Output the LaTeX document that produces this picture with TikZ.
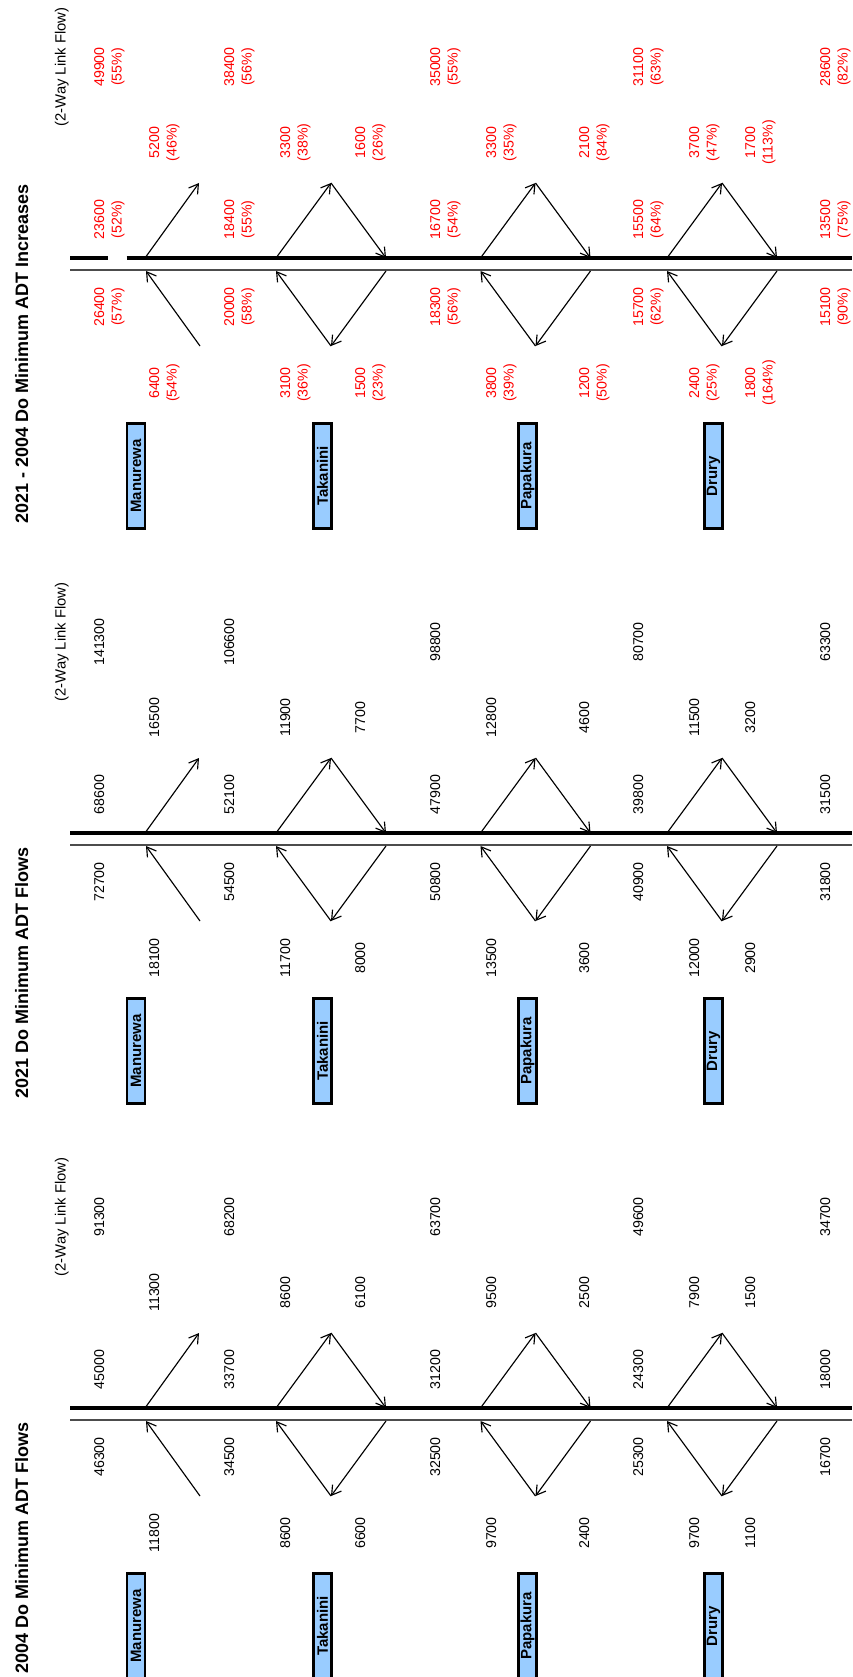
\documentclass[tikz,border=0pt]{standalone}
\usepackage{fontspec}
\setmainfont{Liberation Sans}
\usetikzlibrary{arrows.meta}
\definecolor{boxblue}{HTML}{99CCFF}
\tikzset{
 num/.style={rotate=90, anchor=north, inner sep=0pt, align=center, font=\fontsize{14.2}{17.5}\selectfont},
 rednum/.style={num, text=red},
 ttl/.style={rotate=90, anchor=west, inner sep=0pt, font=\bfseries\fontsize{18}{21}\selectfont},
 linkflow/.style={rotate=90, inner sep=0pt, font=\fontsize{14.8}{17}\selectfont},
 station/.style={rotate=90, draw=black, line width=2.3pt, fill=boxblue, minimum width=105pt, minimum height=18pt, inner sep=0pt, font=\bfseries\fontsize{15}{17}\selectfont},
 road/.style={line width=3.1pt, black},
 roadthin/.style={line width=1.1pt, black!70},
 ramp/.style={line width=1.15pt, -{Straight Barb[length=9pt,width=11pt]}},
}
\newcommand\roadpanel[3]{%
\begin{scope}[shift={(0,#1)}]
 \node[ttl] (#2title) at (21.7,266) {#3};
 \node[linkflow] (#2lf) at (61.7,-191) {(2-Way Link Flow)};
 \coordinate (#2ts) at (70,12); \coordinate (#2te) at (852,12);
 \draw[roadthin] (#2ts) -- (#2te);
 % Manurewa half interchange
 \coordinate (#2manUL) at (145,0); \coordinate (#2manUA) at (199,-75);
 \coordinate (#2manLA) at (200,88); \coordinate (#2manLL) at (146,13);
 \draw[ramp] (#2manUL) -- (#2manUA);
 \draw[ramp] (#2manLA) -- (#2manLL);
 \foreach \n/\ax in {tak/331, pap/535.5, dru/722} {
   \coordinate (#2\n UL) at (\ax-55,0);
   \coordinate (#2\n UA) at (\ax,-75);
   \coordinate (#2\n UR) at (\ax+55,0);
   \coordinate (#2\n LL) at (\ax-55,13);
   \coordinate (#2\n LA) at (\ax,88);
   \coordinate (#2\n LR) at (\ax+55,13);
   \draw[ramp] (#2\n UL) -- (#2\n UA);
   \draw[ramp] (#2\n UA) -- (#2\n UR);
   \draw[ramp] (#2\n LR) -- (#2\n LA);
   \draw[ramp] (#2\n LA) -- (#2\n LL);
 }
 \node[station] (#2man) at (136,218) {Manurewa};
 \node[station] (#2tak) at (322.5,218) {Takanini};
 \node[station] (#2pap) at (527.5,218) {Papakura};
 \node[station] (#2dru) at (713.5,218) {Drury};
\end{scope}}
\begin{document}
\begin{tikzpicture}[x=1pt,y=-1pt]
\useasboundingbox (0,0) rectangle (852,1677);
\fill[white] (0,0) rectangle (852,1677);

% ---------- Panel 1: 2004 ----------
\roadpanel{1408}{pa}{2004 Do Minimum ADT Flows}
\begin{scope}[shift={(0,1408)}]
 \coordinate (pas) at (70,0); \coordinate (pae) at (852,0);
 \draw[road] (pas) -- (pae);
 \foreach \x/\v [count=\i] in {94/91300,224/68200,430/63700,633/49600,820/34700}
   \node[num] (paR\i) at (\x,-191) {\v};
 \foreach \x/\v [count=\i] in {94/45000,224/33700,430/31200,633/24300,820/18000}
   \node[num] (paU\i) at (\x,-38.5) {\v};
 \foreach \x/\v [count=\i] in {94/46300,224/34500,430/32500,633/25300,820/16700}
   \node[num] (paD\i) at (\x,49) {\v};
 \foreach \x/\v [count=\i] in {149/11300,280/8600,355/6100,486/9500,579/2500,689/7900,745/1500}
   \node[num] (paRU\i) at (\x,-115.5) {\v};
 \foreach \x/\v [count=\i] in {149/11800,280/8600,355/6600,486/9700,579/2400,689/9700,745/1100}
   \node[num] (paRD\i) at (\x,125) {\v};
\end{scope}

% ---------- Panel 2: 2021 ----------
\roadpanel{833}{pb}{2021 Do Minimum ADT Flows}
\begin{scope}[shift={(0,833)}]
 \coordinate (pbs) at (70,0); \coordinate (pbe) at (852,0);
 \draw[road] (pbs) -- (pbe);
 \foreach \x/\v [count=\i] in {94/141300,224/106600,430/98800,633/80700,820/63300}
   \node[num] (pbR\i) at (\x,-191) {\v};
 \foreach \x/\v [count=\i] in {94/68600,224/52100,430/47900,633/39800,820/31500}
   \node[num] (pbU\i) at (\x,-38.5) {\v};
 \foreach \x/\v [count=\i] in {94/72700,224/54500,430/50800,633/40900,820/31800}
   \node[num] (pbD\i) at (\x,49) {\v};
 \foreach \x/\v [count=\i] in {149/16500,280/11900,355/7700,486/12800,579/4600,689/11500,745/3200}
   \node[num] (pbRU\i) at (\x,-115.5) {\v};
 \foreach \x/\v [count=\i] in {149/18100,280/11700,355/8000,486/13500,579/3600,689/12000,745/2900}
   \node[num] (pbRD\i) at (\x,125) {\v};
\end{scope}

% ---------- Panel 3: 2021 - 2004 ----------
\roadpanel{258}{pc}{2021 - 2004 Do Minimum ADT Increases}
\begin{scope}[shift={(0,258)}]
 \coordinate (pcs) at (70,0); \coordinate (pcg1) at (107.7,0);
 \coordinate (pcg2) at (126.7,0); \coordinate (pce) at (852,0);
 \draw[road] (pcs) -- (pcg1);
 \draw[road] (pcg2) -- (pce);
 \foreach \x/\v [count=\i] in {94/{49900\\(55\%)},224/{38400\\(56\%)},430/{35000\\(55\%)},633/{31100\\(63\%)},820/{28600\\(82\%)}}
   \node[rednum] (pcR\i) at (\x,-191) {\v};
 \foreach \x/\v [count=\i] in {94/{23600\\(52\%)},224/{18400\\(55\%)},430/{16700\\(54\%)},633/{15500\\(64\%)},820/{13500\\(75\%)}}
   \node[rednum] (pcU\i) at (\x,-38.5) {\v};
 \foreach \x/\v [count=\i] in {94/{26400\\(57\%)},224/{20000\\(58\%)},430/{18300\\(56\%)},633/{15700\\(62\%)},820/{15100\\(90\%)}}
   \node[rednum] (pcD\i) at (\x,49) {\v};
 \foreach \x/\v [count=\i] in {149/{5200\\(46\%)},280/{3300\\(38\%)},355/{1600\\(26\%)},486/{3300\\(35\%)},579/{2100\\(84\%)},689/{3700\\(47\%)},745/{1700\\(113\%)}}
   \node[rednum] (pcRU\i) at (\x,-115.5) {\v};
 \foreach \x/\v [count=\i] in {149/{6400\\(54\%)},280/{3100\\(36\%)},355/{1500\\(23\%)},486/{3800\\(39\%)},579/{1200\\(50\%)},689/{2400\\(25\%)},745/{1800\\(164\%)}}
   \node[rednum] (pcRD\i) at (\x,125) {\v};
\end{scope}
\end{tikzpicture}
\end{document}
